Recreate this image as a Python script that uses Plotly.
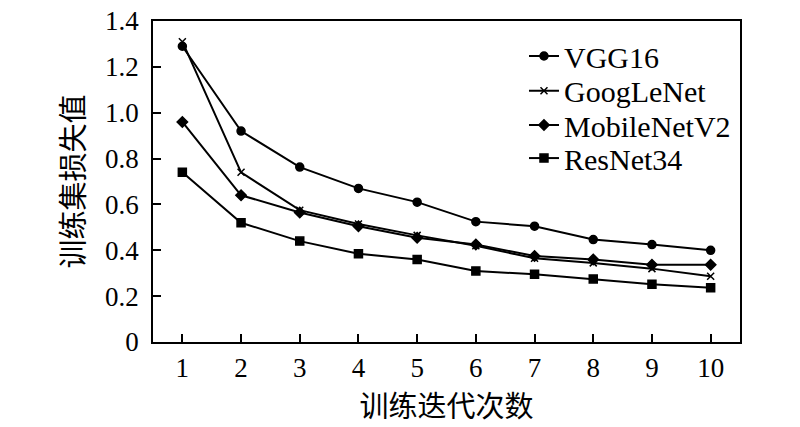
import plotly.graph_objects as go

epochs = [1, 2, 3, 4, 5, 6, 7, 8, 9, 10]
vgg16 = [1.29, 0.92, 0.763, 0.67, 0.61, 0.525, 0.505, 0.447, 0.425, 0.40]
googlenet = [1.31, 0.74, 0.575, 0.515, 0.465, 0.42, 0.365, 0.345, 0.32, 0.287]
mobilenetv2 = [0.96, 0.64, 0.565, 0.505, 0.455, 0.425, 0.375, 0.36, 0.337, 0.337]
resnet34 = [0.74, 0.52, 0.44, 0.385, 0.36, 0.31, 0.295, 0.275, 0.252, 0.237]

y_ticks = [0, 0.2, 0.4, 0.6, 0.8, 1.0, 1.2, 1.4]
y_tick_labels = ["0", "0.2", "0.4", "0.6", "0.8", "1.0", "1.2", "1.4"]

series = [
    ("VGG16", vgg16, "circle", 8),
    ("GoogLeNet", googlenet, "x-thin-open", 7),
    ("MobileNetV2", mobilenetv2, "diamond", 8),
    ("ResNet34", resnet34, "square", 8),
]

serif = "Liberation Serif, Times New Roman, serif"
cjk = "Noto Sans CJK SC"

# one legend per trace so the rows can sit closer than plotly's default spacing
legend_rows = [0.891, 0.783, 0.676, 0.573]

fig = go.Figure()
layout_legends = {}
for i, (name, values, symbol, size) in enumerate(series):
    key = "legend" if i == 0 else "legend%d" % (i + 1)
    fig.add_trace(go.Scatter(
        x=epochs, y=values, name=name, mode="lines+markers",
        line=dict(color="black", width=2),
        marker=dict(symbol=symbol, size=size, color="black",
                    line=dict(color="black", width=1.5)),
        legend=key,
    ))
    layout_legends[key] = dict(
        x=0.632, y=legend_rows[i], xanchor="left", yanchor="middle",
        font=dict(family=serif, size=30), bgcolor="rgba(0,0,0,0)",
        itemwidth=30,
    )

fig.update_layout(
    width=800, height=427,
    margin=dict(l=153, r=60, t=21, b=85, autoexpand=False),
    paper_bgcolor="white", plot_bgcolor="white",
    font=dict(family=serif, color="black", size=24),
    showlegend=True,
    **layout_legends,
)
fig.update_xaxes(
    range=[0.5, 10.5], tickvals=epochs, ticks="inside", ticklen=8,
    tickwidth=1.5, tickcolor="black", showline=True, linecolor="black",
    linewidth=1.5, mirror=True, showgrid=False, zeroline=False,
    automargin=False,
    tickfont=dict(family=serif, size=27), ticklabelstandoff=1,
    title=dict(text="训练迭代次数", font=dict(family=cjk, size=29), standoff=0),
)
fig.update_yaxes(
    range=[0, 1.4001], tickvals=y_ticks, ticktext=y_tick_labels, ticks="inside",
    ticklen=8, tickwidth=1.5, tickcolor="black", showline=True,
    linecolor="black", linewidth=1.5, mirror=True, showgrid=False,
    zeroline=False, automargin=False,
    tickfont=dict(family=serif, size=27), ticklabelstandoff=7,
    ticklabeloverflow="allow",
    title=dict(text="训练集损失值", font=dict(family=cjk, size=29), standoff=12),
)

# drop the page's default 8px body margin so the figure fills the window
fig.write_html("out.html", config={"displayModeBar": False},
               post_script="document.body.style.margin='0';")
